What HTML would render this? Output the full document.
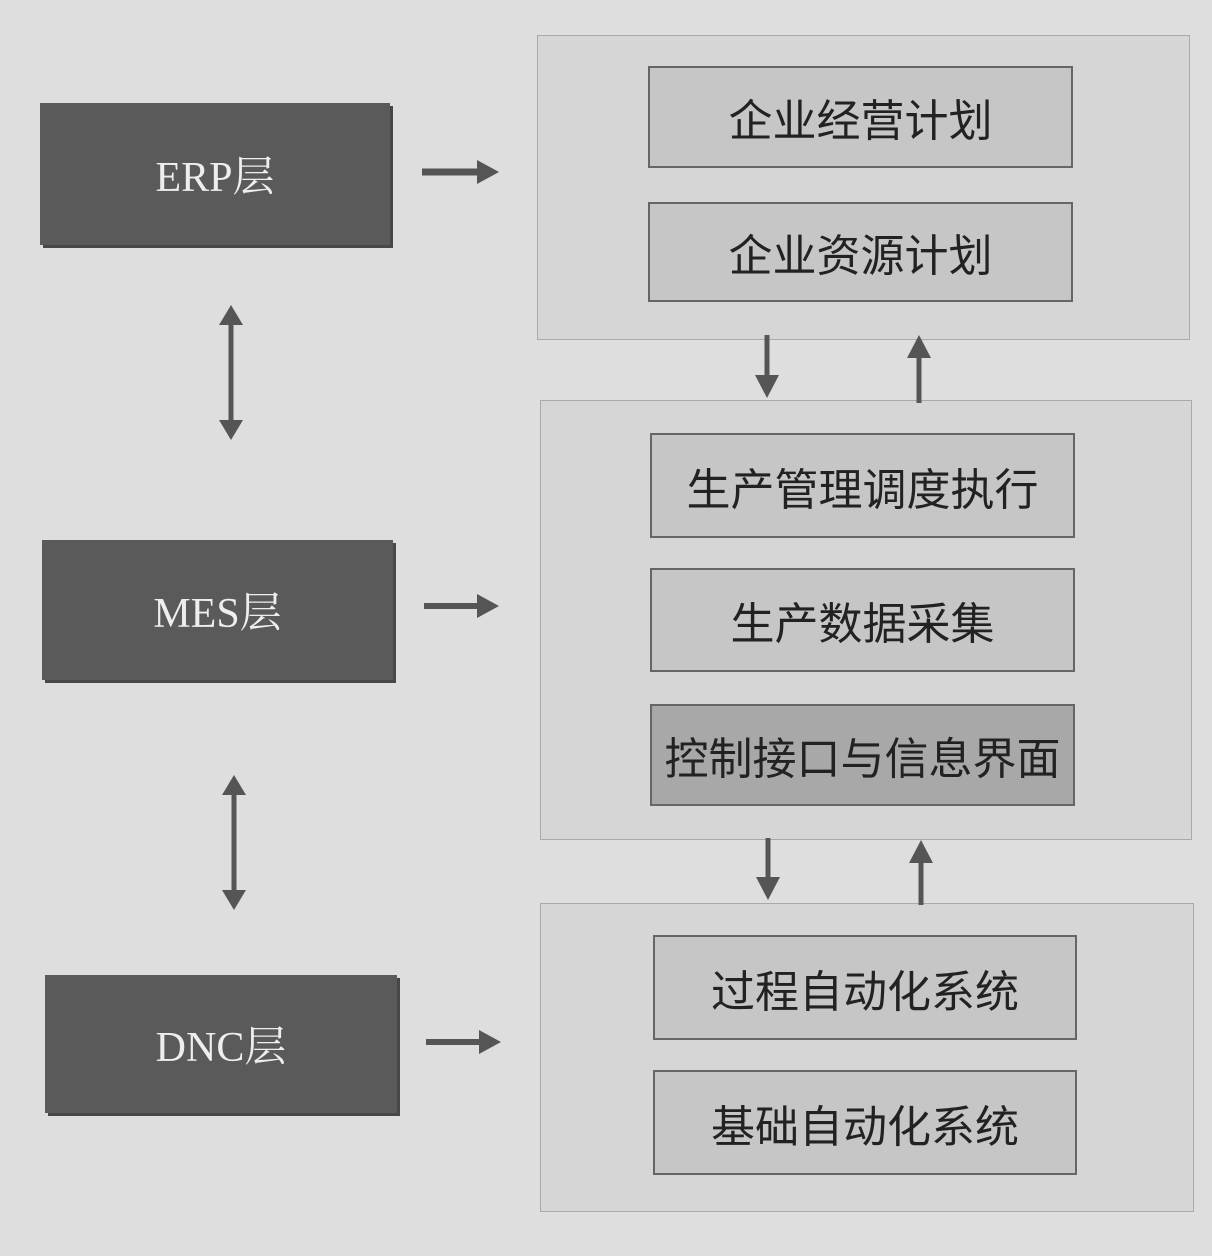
<!DOCTYPE html>
<html><head><meta charset="utf-8"><style>
body{margin:0;width:1212px;height:1256px;background:#dedede;position:relative;overflow:hidden;font-family:"Liberation Serif","Noto Serif CJK SC",serif}
.d{position:absolute;background:#5a5a5a;color:#eee;font-size:42px;display:flex;align-items:center;justify-content:center;box-shadow:3px 3px 0 #484848}
.p{position:absolute;background:#d6d6d6;border:1px solid #aaa}
.i{position:absolute;background:#c6c6c6;border:2px solid #666;color:#222;font-family:"Liberation Sans","Noto Sans CJK SC",sans-serif;font-size:44px;display:flex;align-items:center;justify-content:center;box-sizing:border-box}
svg{position:absolute;left:0;top:0}
</style></head><body>
<div class="d" style="left:40px;top:103px;width:350px;height:142px">ERP层</div>
<div class="d" style="left:42px;top:540px;width:351px;height:140px">MES层</div>
<div class="d" style="left:45px;top:975px;width:352px;height:138px">DNC层</div>
<div class="p" style="left:537px;top:35px;width:651px;height:303px"></div>
<div class="p" style="left:540px;top:400px;width:650px;height:438px"></div>
<div class="p" style="left:540px;top:903px;width:652px;height:307px"></div>
<div class="i" style="left:648px;top:66px;width:425px;height:102px">企业经营计划</div>
<div class="i" style="left:648px;top:202px;width:425px;height:100px">企业资源计划</div>
<div class="i" style="left:650px;top:433px;width:425px;height:105px">生产管理调度执行</div>
<div class="i" style="left:650px;top:568px;width:425px;height:104px">生产数据采集</div>
<div class="i" style="left:650px;top:704px;width:425px;height:102px;background:#a8a8a8">控制接口与信息界面</div>
<div class="i" style="left:653px;top:935px;width:424px;height:105px">过程自动化系统</div>
<div class="i" style="left:653px;top:1070px;width:424px;height:105px">基础自动化系统</div>
<svg width="1212" height="1256"><g fill="#555" stroke="#555">
<line x1="422" y1="172" x2="480" y2="172" stroke-width="7"/><polygon points="477,160 499,172 477,184" stroke="none"/>
<line x1="424" y1="606" x2="480" y2="606" stroke-width="6"/><polygon points="477,594 499,606 477,618" stroke="none"/>
<line x1="426" y1="1042" x2="482" y2="1042" stroke-width="6"/><polygon points="479,1030 501,1042 479,1054" stroke="none"/>
<line x1="231" y1="320" x2="231" y2="425" stroke-width="5"/><polygon points="219,325 231,305 243,325" stroke="none"/><polygon points="219,420 231,440 243,420" stroke="none"/>
<line x1="234" y1="790" x2="234" y2="895" stroke-width="5"/><polygon points="222,795 234,775 246,795" stroke="none"/><polygon points="222,890 234,910 246,890" stroke="none"/>
<line x1="767" y1="335" x2="767" y2="380" stroke-width="5"/><polygon points="755,375 767,398 779,375" stroke="none"/>
<line x1="919" y1="355" x2="919" y2="403" stroke-width="5"/><polygon points="907,358 919,335 931,358" stroke="none"/>
<line x1="768" y1="838" x2="768" y2="882" stroke-width="5"/><polygon points="756,877 768,900 780,877" stroke="none"/>
<line x1="921" y1="860" x2="921" y2="905" stroke-width="5"/><polygon points="909,863 921,840 933,863" stroke="none"/>
</g></svg>
</body></html>
